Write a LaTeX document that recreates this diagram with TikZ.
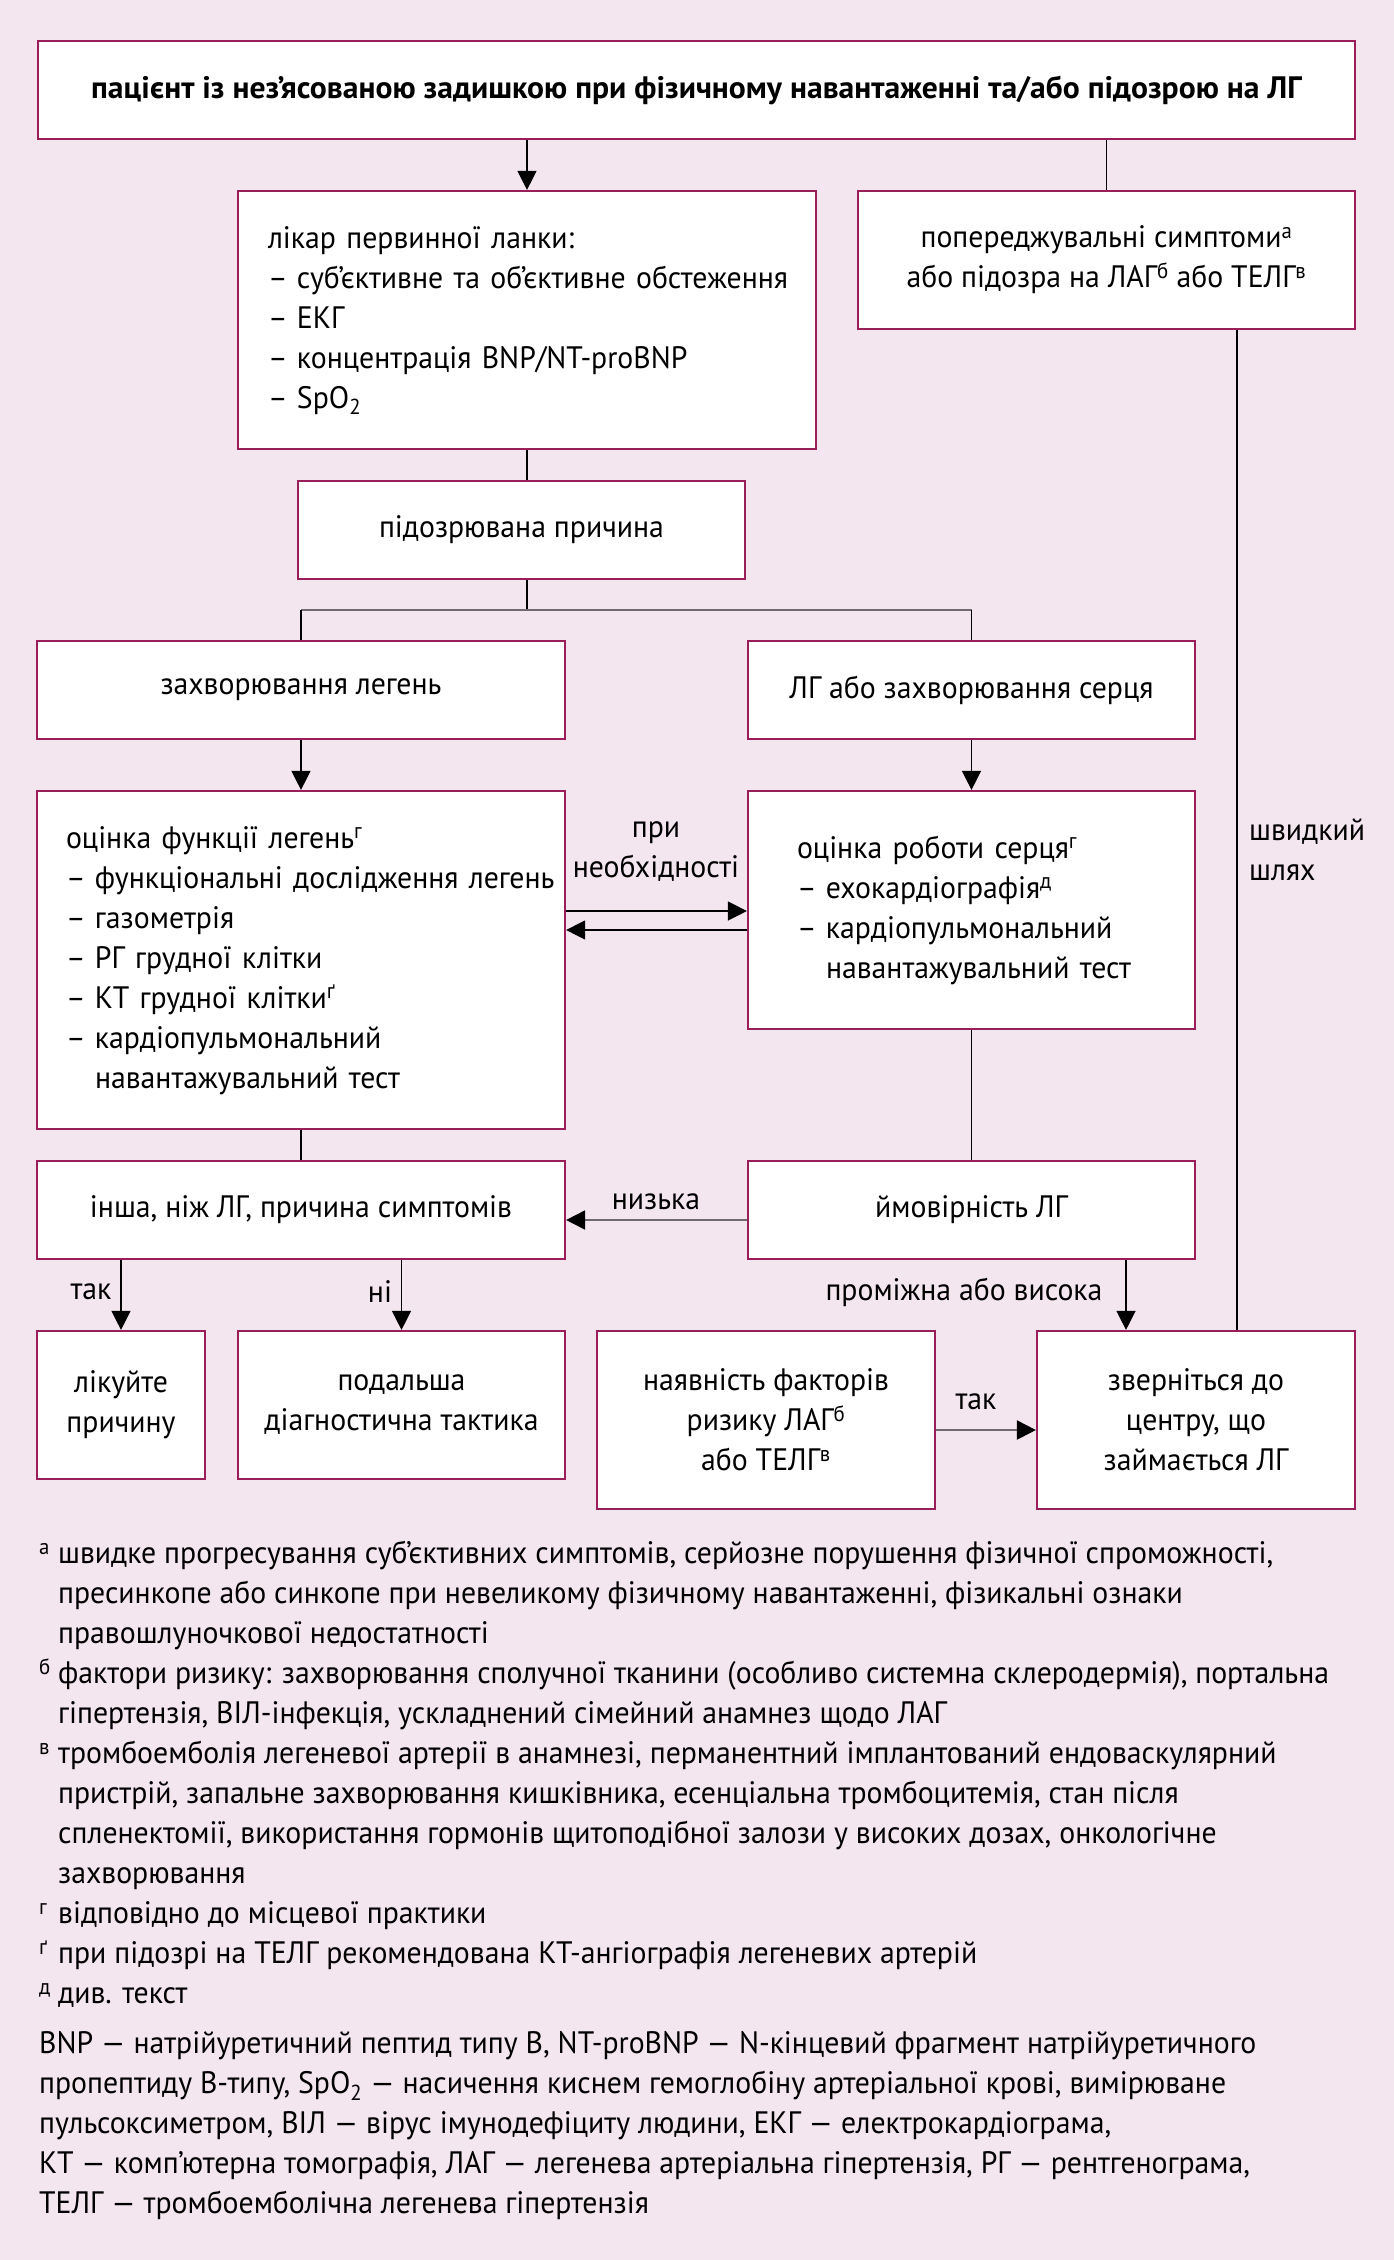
\documentclass[tikz,border=0pt]{standalone}
\usepackage{fontspec}
\setmainfont{PT Sans}[FakeStretch=0.96]
\newfontfamily\topfont{PT Sans}[FakeStretch=1.02]
\usetikzlibrary{arrows.meta}
\definecolor{bgc}{HTML}{F4E6EE}
\definecolor{boxc}{HTML}{9A1E5A}
\definecolor{gline}{HTML}{6E6A6E}
\newcommand{\dashitem}{\makebox[29pt][l]{–}}
\newcommand{\contitem}{\hspace*{29pt}}
\newcommand{\fnm}[1]{\makebox[19pt][l]{\textsuperscript{#1}}}
\newcommand{\fnc}{\hspace*{19pt}}
\newcommand{\boxlines}[1]{\begin{tabular}{@{}l@{}}#1\end{tabular}}
\begin{document}
\begin{tikzpicture}[x=1pt,y=-1pt,
  txt/.style={font=\fontsize{31}{40}\selectfont},
  box/.style={txt, draw=boxc, line width=2.2pt, fill=white, inner sep=0pt, align=center},
  lbox/.style={box, align=left},
  arr/.style={-{Triangle[length=19pt,width=19pt]}, line width=1.3pt},
  garr/.style={-{Triangle[length=19pt,width=19pt,color=black]}, draw=gline, line width=2pt},
  ln/.style={line width=1.3pt},
  gl/.style={draw=gline, line width=2pt},
  lab/.style={txt, inner sep=0pt}]
\fill[bgc] (0,0) rectangle (1394,2260);
\useasboundingbox (0,0) rectangle (1394,2260);

% helper coordinates
\coordinate (brY) at (0,610);
\coordinate (a1) at (0,911);
\coordinate (a2) at (0,930);
\coordinate (a3) at (0,1220);
\coordinate (a4) at (0,1430);
\coordinate (r1) at (1126,0);
\coordinate (f1) at (1237,0);

% boxes
\node[box, minimum width=1317pt, minimum height=98pt, font=\topfont\bfseries\fontsize{31}{40}\selectfont] (top) at (696.5,90)
  {пацієнт із нез’ясованою задишкою при фізичному навантаженні та/або підозрою на ЛГ};
\node[lbox, text width=518pt, inner xsep=30pt, minimum height=258pt] (prim) at (527,320)
  {\boxlines{лікар первинної ланки:\\ \dashitem суб’єктивне та об’єктивне обстеження\\ \dashitem ЕКГ\\ \dashitem концентрація BNP/NT-proBNP\\ \dashitem SpO\textsubscript{2}}};
\node[box, minimum width=497pt, minimum height=138pt] (warn) at (1106.5,260)
  {попереджувальні симптоми\textsuperscript{а}\\ або підозра на ЛАГ\textsuperscript{б} або ТЕЛГ\textsuperscript{в}};
\node[box, minimum width=447pt, minimum height=98pt] (cause) at (521.5,530) {підозрювана причина};
\node[box, minimum width=528pt, minimum height=98pt] (lung) at (301,690) {захворювання легень};
\node[box, minimum width=447pt, minimum height=98pt] (heart) at (971.5,690) {ЛГ або захворювання серця};
\node[lbox, text width=470pt, inner xsep=29pt, minimum height=338pt] (leval) at (301,960)
  {\boxlines{оцінка функції легень\textsuperscript{г}\\ \dashitem функціональні дослідження легень\\ \dashitem газометрія\\ \dashitem РГ грудної клітки\\ \dashitem КТ грудної клітки\textsuperscript{ґ}\\ \dashitem кардіопульмональний\\ \contitem навантажувальний тест}};
\node[lbox, text width=349pt, inner xsep=49pt, minimum height=238pt] (heval) at (971.5,910)
  {\boxlines{оцінка роботи серця\textsuperscript{г}\\ \dashitem ехокардіографія\textsuperscript{д}\\ \dashitem кардіопульмональний\\ \contitem навантажувальний тест}};
\node[box, minimum width=528pt, minimum height=98pt] (other) at (301,1210) {інша, ніж ЛГ, причина симптомів};
\node[box, minimum width=447pt, minimum height=98pt] (prob) at (971.5,1210) {ймовірність ЛГ};
\node[box, minimum width=168pt, minimum height=148pt] (treat) at (121,1405) {лікуйте\\ причину};
\node[box, minimum width=327pt, minimum height=148pt] (further) at (401.5,1405) {подальша\\ діагностична тактика};
\node[box, minimum width=338pt, minimum height=178pt] (risk) at (766,1420) {наявність факторів\\ ризику ЛАГ\textsuperscript{б}\\ або ТЕЛГ\textsuperscript{в}};
\node[box, minimum width=318pt, minimum height=178pt] (refer) at (1196,1420) {зверніться до\\ центру, що\\ займається ЛГ};

% connectors
\draw[arr] (top.south -| prim.north) -- (prim.north);
\draw[ln] (top.south -| warn.north) -- (warn.north);
\draw[ln] (prim.south) -- (prim.south |- cause.north);
\draw[ln] (prim.south |- cause.south) -- (prim.south |- brY);
\draw[gl] (lung.north |- brY) -- (heart.north |- brY);
\draw[ln] (lung.north |- brY) -- (lung.north);
\draw[ln] (heart.north |- brY) -- (heart.north);
\draw[arr] (lung.south) -- (leval.north);
\draw[arr] (heart.south) -- (heval.north);
\draw[arr] (leval.east |- a1) -- (heval.west |- a1);
\draw[arr] (heval.west |- a2) -- (leval.east |- a2);
\node[lab, align=center] (need) at (656,852) {при\\ необхідності};
\draw[ln] (heval.south) -- (prob.north);
\draw[ln] (leval.south) -- (other.north);
\draw[garr] (prob.west |- a3) -- (other.east |- a3);
\node[lab] (low) at (656,1202) {низька};
\draw[arr] (other.south -| treat.north) -- (treat.north);
\draw[arr] (other.south -| further.north) -- (further.north);
\node[lab] (yes1) at (91,1292) {так};
\node[lab] (no1) at (380,1292) {ні};
\draw[arr] (prob.south -| r1) -- (refer.north -| r1);
\node[lab] (midhigh) at (964,1292) {проміжна або висока};
\draw[garr] (risk.east |- a4) -- (refer.west |- a4);
\node[lab] (yes2) at (976,1402) {так};
\draw[ln] (warn.south -| f1) -- (refer.north -| f1);
\node[lab, align=left, anchor=west] (fast) at (1249,850) {швидкий\\ шлях};

% footnotes
\node[lab, align=left, anchor=west] (notes) at (39,1774.5)
{\fnm{а}швидке прогресування суб’єктивних симптомів, серйозне порушення фізичної спроможності,\\
\fnc пресинкопе або синкопе при невеликому фізичному навантаженні, фізикальні ознаки\\
\fnc правошлуночкової недостатності\\
\fnm{б}фактори ризику: захворювання сполучної тканини (особливо системна склеродермія), портальна\\
\fnc гіпертензія, ВІЛ-інфекція, ускладнений сімейний анамнез щодо ЛАГ\\
\fnm{в}тромбоемболія легеневої артерії в анамнезі, перманентний імплантований ендоваскулярний\\
\fnc пристрій, запальне захворювання кишківника, есенціальна тромбоцитемія, стан після\\
\fnc спленектомії, використання гормонів щитоподібної залози у високих дозах, онкологічне\\
\fnc захворювання\\
\fnm{г}відповідно до місцевої практики\\
\fnm{ґ}при підозрі на ТЕЛГ рекомендована КТ-ангіографія легеневих артерій\\
\fnm{д}див. текст};
\node[lab, align=left, anchor=west] (abbr) at (39,2126)
{BNP — натрійуретичний пептид типу B, NT-proBNP — N-кінцевий фрагмент натрійуретичного\\
пропептиду B-типу, SpO\textsubscript{2} — насичення киснем гемоглобіну артеріальної крові, вимірюване\\
пульсоксиметром, ВІЛ — вірус імунодефіциту людини, ЕКГ — електрокардіограма,\\
КТ — комп'ютерна томографія, ЛАГ — легенева артеріальна гіпертензія, РГ — рентгенограма,\\
ТЕЛГ — тромбоемболічна легенева гіпертензія};
\end{tikzpicture}
\end{document}
